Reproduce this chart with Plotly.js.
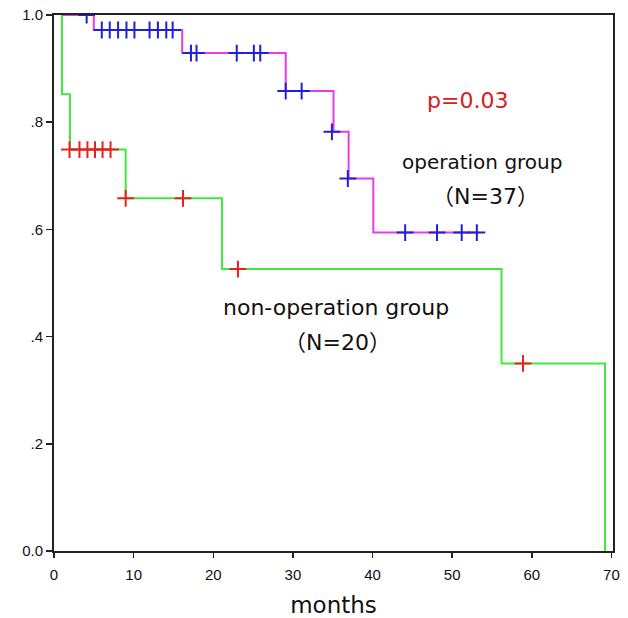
<!DOCTYPE html>
<html>
<head>
<meta charset="utf-8">
<script src="https://cdn.plot.ly/plotly-3.0.1.min.js"></script>
<style>html,body{margin:0;padding:0;background:#fff;}#chart{width:628px;height:618px;}</style>
</head>
<body>
<div id="chart"></div>
<script>
// Operation group (step curve)
const opTimes = [1, 5, 16.1, 29.1, 35.1, 37.0, 40.1, 53.4];
const opSurv  = [1.0, 0.972, 0.929, 0.858, 0.782, 0.695, 0.594, 0.594];
// Operation group censored
const opCensTimes = [4.1, 6.0, 7.0, 8.05, 9.1, 10.1, 12.0, 13.05, 14.1, 14.9, 17.2, 17.9, 22.95, 25.1, 25.9, 29.1, 31.1, 34.9, 36.9, 44.1, 48.1, 51.2, 53.1];
const opCensSurv  = [1.0, 0.972, 0.972, 0.972, 0.972, 0.972, 0.972, 0.972, 0.972, 0.972, 0.929, 0.929, 0.929, 0.929, 0.929, 0.858, 0.858, 0.782, 0.695, 0.594, 0.594, 0.594, 0.594];

// Non-operation group (step curve)
const nonTimes = [1.0, 1.0, 2.0, 9.0, 21.1, 56.2, 69.2, 69.2];
const nonSurv  = [1.0, 0.852, 0.749, 0.658, 0.526, 0.350, 0.350, 0.0];
// Non-operation group censored
const nonCensTimes = [1.95, 3.2, 4.2, 5.15, 6.1, 7.1, 9.0, 16.2, 23.1, 58.9];
const nonCensSurv  = [0.749, 0.749, 0.749, 0.749, 0.749, 0.749, 0.658, 0.658, 0.526, 0.350];

const xTicks = [0, 10, 20, 30, 40, 50, 60, 70];
const yTicks = [0, 0.2, 0.4, 0.6, 0.8, 1.0];
const yTickText = ["0.0", ".2", ".4", ".6", ".8", "1.0"];

const traces = [
  {x: nonTimes, y: nonSurv, mode: 'lines', line: {shape: 'hv', color: '#3fe83f', width: 2}, hoverinfo: 'skip'},
  {x: opTimes, y: opSurv, mode: 'lines', line: {shape: 'hv', color: '#e83ce8', width: 2}, hoverinfo: 'skip'},
  {x: nonCensTimes, y: nonCensSurv, mode: 'markers', marker: {symbol: 'cross-thin-open', size: 12, line: {color: '#e82020', width: 2}, color: '#e82020'}, hoverinfo: 'skip'},
  {x: opCensTimes, y: opCensSurv, mode: 'markers', marker: {symbol: 'cross-thin-open', size: 12, line: {color: '#2020d8', width: 2}, color: '#2020d8'}, hoverinfo: 'skip'}
];

const textFont = {family: 'DejaVu Sans, Noto Sans CJK JP, sans-serif', size: 20, color: '#111'};
const textFontBig = {family: 'DejaVu Sans, Noto Sans CJK JP, sans-serif', size: 22, color: '#111'};
const P = s => '<span style="font-family:\'Noto Sans CJK TC\'">' + s + '</span>';
const layout = {
  width: 628, height: 618,
  margin: {l: 54, r: 15, t: 15, b: 67},
  paper_bgcolor: '#fff', plot_bgcolor: '#fff',
  showlegend: false,
  xaxis: {
    range: [0, 70.2], tickvals: xTicks, ticktext: xTicks.map(String),
    showgrid: false, zeroline: false, showline: true, mirror: true,
    linecolor: '#222', linewidth: 2, ticks: 'outside', ticklen: 5, tickcolor: '#222', tickwidth: 1.5,
    ticklabelstandoff: 4,
    tickfont: {family: 'Liberation Sans Narrow, Liberation Sans, sans-serif', size: 15, color: '#111'},
    title: {text: 'months', font: {family: 'DejaVu Sans, sans-serif', size: 23, color: '#111'}, standoff: 16}
  },
  yaxis: {
    range: [0, 1.0], tickvals: yTicks, ticktext: yTickText,
    showgrid: false, zeroline: false, showline: true, mirror: true,
    linecolor: '#222', linewidth: 2, ticks: 'outside', ticklen: 6, tickcolor: '#222', tickwidth: 1.5,
    tickfont: {family: 'Liberation Sans Narrow, Liberation Sans, sans-serif', size: 15, color: '#111'}
  },
  annotations: [
    {x: 467, y: 100, text: 'p=0.03', showarrow: false, font: {family: 'DejaVu Sans, sans-serif', size: 22, color: '#d42020'}},
    {x: 482, y: 162, text: 'operation group', showarrow: false, font: textFont},
    {x: 485, y: 194, text: P('（') + 'N=37' + P('）'), showarrow: false, font: textFontBig},
    {x: 336, y: 308, text: 'non-operation group', showarrow: false, font: textFontBig},
    {x: 337, y: 340, text: P('（') + 'N=20' + P('）'), showarrow: false, font: textFontBig}
  ]
};
// convert pixel positions of annotations to paper coords
const L = 54, R = 613, T = 15, B = 551;
layout.annotations.forEach(a => {
  a.xref = 'paper'; a.yref = 'paper';
  a.x = (a.x - L) / (R - L);
  a.y = (B - a.y) / (B - T);
  a.xanchor = 'center'; a.yanchor = 'middle';
});
Plotly.newPlot('chart', traces, layout, {staticPlot: true, displayModeBar: false});
</script>
</body>
</html>
